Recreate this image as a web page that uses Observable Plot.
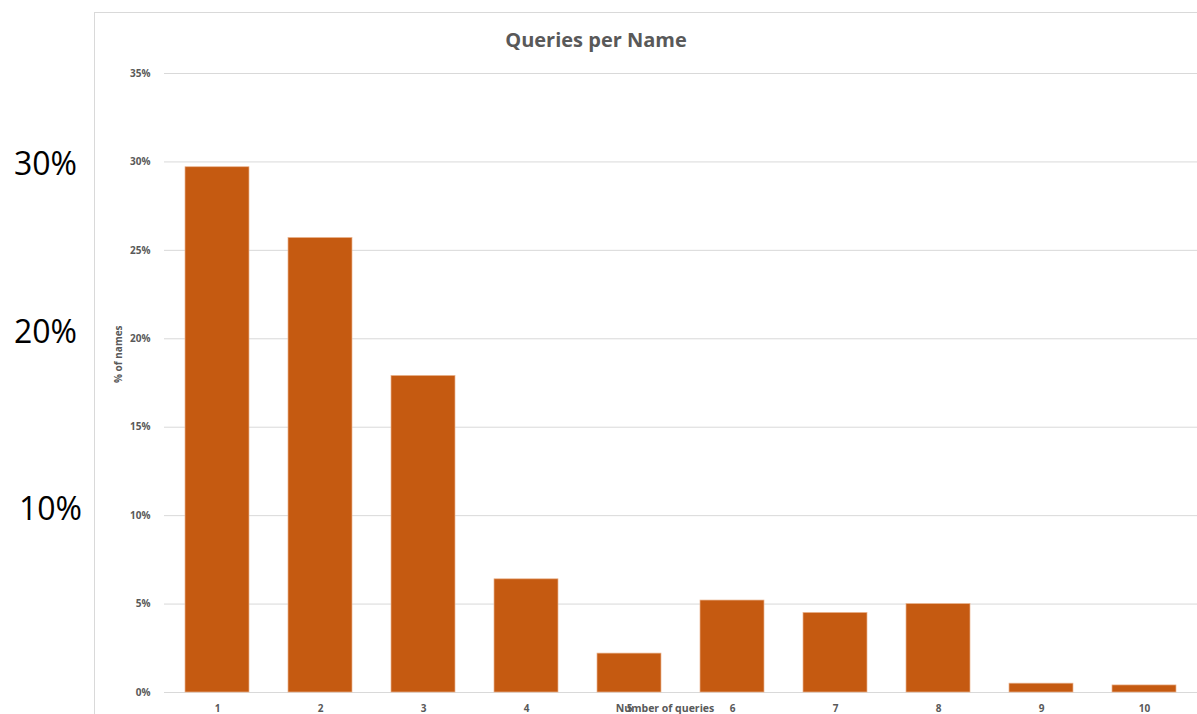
<!DOCTYPE html>
<html>
<head>
<meta charset="utf-8">
<script src="https://cdn.jsdelivr.net/npm/d3@7"></script>
<script src="https://cdn.jsdelivr.net/npm/@observablehq/plot@0.6"></script>
<style>
  body { margin: 0; background: #fff; }
  #wrap { position: relative; width: 1197px; height: 714px; overflow: hidden; }
  #box { position: absolute; left: 94px; top: 12px; width: 1200px; height: 800px; border: 1px solid #d9d9d9; }
  #chart { position: absolute; left: 0; top: 0; }
</style>
</head>
<body>
<div id="wrap"><div id="box"></div><div id="chart"></div></div>
<script>
// Number of queries made for a name, and the share of names with that count
const queries = ["1", "2", "3", "4", "5", "6", "7", "8", "9", "10"];
const shareOfNames = [0.297, 0.257, 0.179, 0.064, 0.022, 0.052, 0.045, 0.050, 0.005, 0.004];

// Value axis ticks
const yTicks = [0, 0.05, 0.10, 0.15, 0.20, 0.25, 0.30, 0.35];

// Large reference labels down the left side
const sideLabels = ["30%", "20%", "10%"];
const sideValues = [0.30, 0.20, 0.10];

const rows = queries.map((q, i) => ({ q, v: shareOfNames[i] }));
const pct = d => Math.round(d * 100) + "%";
const gray = "#595959";
const sideShift = [[-119, 3], [-119, -6], [-114, -6]];

const chart = Plot.plot({
  width: 1197,
  height: 714,
  marginLeft: 164,
  marginRight: 0,
  marginTop: 73,
  marginBottom: 22,
  style: { fontFamily: "'Open Sans', sans-serif", background: "transparent", overflow: "visible" },
  x: { type: "band", domain: queries, paddingInner: 0.38, paddingOuter: 0.19, label: null },
  y: { domain: [0, 0.35], label: null },
  marks: [
    Plot.gridY(yTicks, { stroke: "#d9d9d9", strokeOpacity: 1, strokeWidth: 1 }),
    Plot.barY(rows, { x: "q", y: "v", fill: "#C55A11", stroke: "#eab48f", strokeWidth: 0.7 }),
    Plot.axisY(yTicks, {
      tickFormat: pct, tickSize: 0, tickPadding: 14,
      fontWeight: "bold", fontSize: 10, fill: gray, label: null
    }),
    Plot.axisX({
      tickSize: 0, tickPadding: 12,
      fontWeight: "bold", fontSize: 10, fill: gray, label: null
    }),
    // chart title
    Plot.text(["Queries per Name"], {
      frameAnchor: "top", lineAnchor: "middle", dx: -85, dy: -33,
      fontSize: 20, fontWeight: "bold", fill: gray
    }),
    // axis titles
    Plot.text(["Number of queries"], {
      frameAnchor: "bottom", lineAnchor: "middle", dx: -16, dy: 16,
      fontSize: 10.5, fontWeight: "bold", fill: gray
    }),
    Plot.text(["% of names"], {
      frameAnchor: "left", dx: -46, rotate: -90,
      fontSize: 10, fontWeight: "bold", fill: gray
    }),
    // big labels in the left margin
    ...sideLabels.map((t, i) => Plot.text([sideValues[i]], {
      y: d => d, text: () => t, frameAnchor: "left",
      dx: sideShift[i][0], dy: sideShift[i][1],
      textAnchor: "middle", fontSize: 32, fill: "#000"
    }))
  ]
});

document.getElementById("chart").append(chart);
</script>
</body>
</html>
